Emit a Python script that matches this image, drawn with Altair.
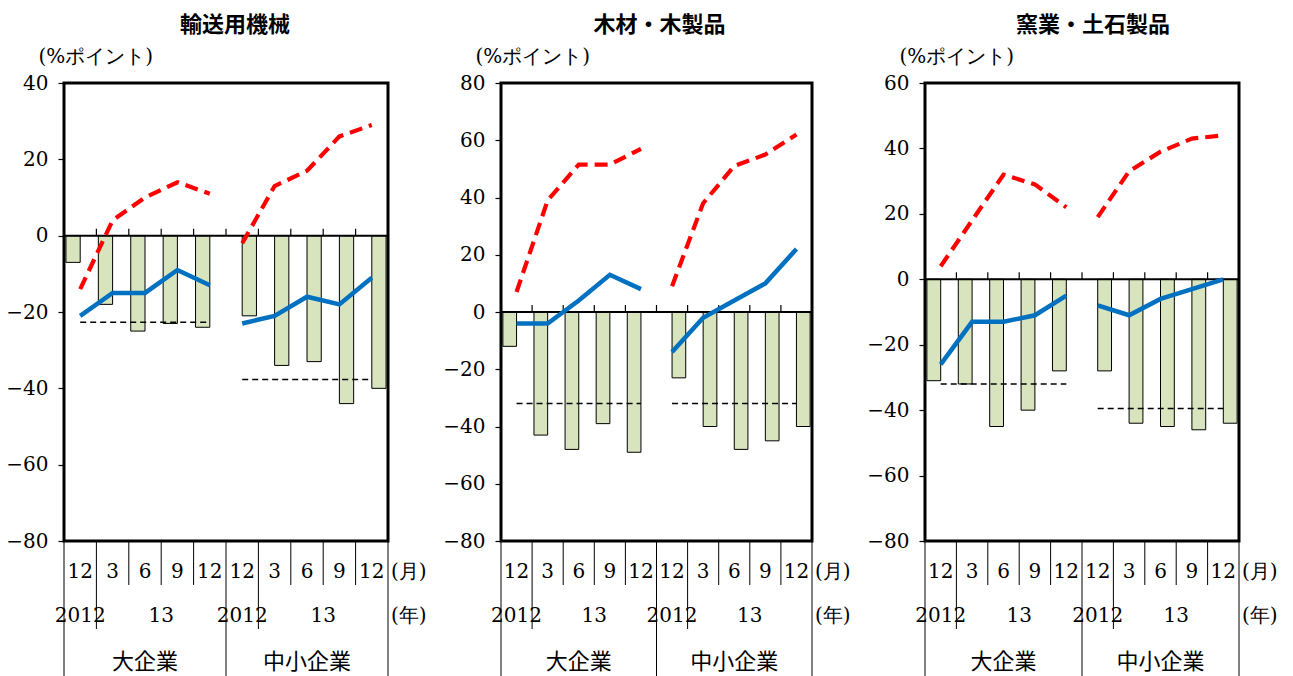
import altair as alt
import pandas as pd

# ---- shared category labels ----
months = ["12", "3", "6", "9", "12"]
year_labels = ["2012", "13"]
size_groups = ["大企業", "中小企業"]
unit_label = "(%ポイント)"

# ---- 輸送用機械 ----
t_title = "輸送用機械"
t_bar_large = [-7, -18, -25, -23, -24]
t_bar_small = [-21, -34, -33, -44, -40]
t_red_large = [-14, 4, 10, 14, 11]
t_red_small = [-2, 13, 17, 26, 29]
t_blue_large = [-21, -15, -15, -9, -13]
t_blue_small = [-23, -21, -16, -18, -11]
t_avg = [-22.7, -37.7]
t_ticks = [40, 20, 0, -20, -40, -60, -80]

# ---- 木材・木製品 ----
w_title = "木材・木製品"
w_bar_large = [-12, -43, -48, -39, -49]
w_bar_small = [-23, -40, -48, -45, -40]
w_red_large = [7, 39, 51.5, 51.5, 57]
w_red_small = [9, 38, 51, 55, 62]
w_blue_large = [-4, -4, 4, 13, 8]
w_blue_small = [-14, -2, 4, 10, 22]
w_avg = [-32, -32]
w_ticks = [80, 60, 40, 20, 0, -20, -40, -60, -80]

# ---- 窯業・土石製品 ----
c_title = "窯業・土石製品"
c_bar_large = [-31, -32, -45, -40, -28]
c_bar_small = [-28, -44, -45, -46, -44]
c_red_large = [4, 18, 32, 29, 22]
c_red_small = [19, 33, 39, 43, 44]
c_blue_large = [-26, -13, -13, -11, -5]
c_blue_small = [-8, -11, -6, -3, 0]
c_avg = [-32, -39.5]
c_ticks = [60, 40, 20, 0, -20, -40, -60, -80]

SERIF = "DejaVu Serif"
SERIF_SIZE = 20
JP = "Noto Sans CJK JP"
BAR_FILL = "#D7E4BD"
BLUE = "#0070C0"
RED = "#FF0000"
H = 458


def panel(title, bar_l, bar_s, red_l, red_s, blue_l, blue_s, avg, ticks,
          width, title_dx):
    n = len(months)
    ymin, ymax = min(ticks), max(ticks)
    xs = alt.Scale(domain=[0, 2 * n], nice=False, zero=False)
    ys = alt.Scale(domain=[ymin, ymax], nice=False, zero=False)
    yaxis = alt.Axis(
        values=ticks, title=unit_label, titleAngle=0, titleX=-26, titleY=-27,
        titleAlign="left", titleBaseline="middle", titleFont=SERIF,
        titleFontSize=SERIF_SIZE, titleFontWeight="normal", titleColor="black",
        labelFont=SERIF, labelFontSize=SERIF_SIZE, labelColor="black",
        labelPadding=10, tickSize=6, tickColor="black", tickWidth=1.2,
        domain=False, grid=False,
    )

    def Y(field):
        return alt.Y(field, type="quantitative", scale=ys, axis=yaxis)

    def X(field):
        return alt.X(field, type="quantitative", scale=xs, axis=None)

    y_zero = alt.Y(datum=0, type="quantitative", scale=ys, axis=yaxis)

    # clustered bars: large firms left of slot centre, small firms right
    bars = pd.DataFrame(
        [{"x0": i + 0.06, "x1": i + 0.5, "v": v} for i, v in enumerate(bar_l)]
        + [{"x0": n + i + 0.5, "x1": n + i + 0.94, "v": v} for i, v in enumerate(bar_s)]
    )
    lines = pd.DataFrame(
        [{"x": i + 0.5, "red": r, "blue": b, "g": size_groups[0]}
         for i, (r, b) in enumerate(zip(red_l, blue_l))]
        + [{"x": n + i + 0.5, "red": r, "blue": b, "g": size_groups[1]}
           for i, (r, b) in enumerate(zip(red_s, blue_s))]
    )
    avgs = pd.DataFrame([
        {"x0": 0.5, "x1": n - 0.5, "v": avg[0]},
        {"x0": n + 0.5, "x1": 2 * n - 0.5, "v": avg[1]},
    ])
    span = pd.DataFrame({"x0": [0], "x1": [2 * n]})
    right_edge = pd.DataFrame({"x": [2 * n, 2 * n], "t": ["(月)", "(年)"]})
    inner = pd.DataFrame({"b": [b for b in range(1, 2 * n)]})

    bar_layer = alt.Chart(bars).mark_rect(
        fill=BAR_FILL, stroke="black", strokeWidth=1
    ).encode(x=X("x0"), x2="x1:Q", y=Y("v"), y2=alt.datum(0))
    avg_layer = alt.Chart(avgs).mark_rule(
        color="black", strokeWidth=1.5, strokeDash=[6, 4]
    ).encode(x=X("x0"), x2="x1:Q", y=Y("v"))
    zero_layer = alt.Chart(span).mark_rule(color="black", strokeWidth=2).encode(
        x=X("x0"), x2="x1:Q", y=y_zero
    )
    tick_layer = alt.Chart(inner).mark_rule(
        color="black", strokeWidth=1.2, y2Offset=-7
    ).encode(x=X("b"), y=y_zero, y2=alt.datum(0))
    red_layer = alt.Chart(lines).mark_line(
        color=RED, strokeWidth=4.2, strokeDash=[13, 7]
    ).encode(x=X("x"), y=Y("red"), detail="g:N")
    blue_layer = alt.Chart(lines).mark_line(
        color=BLUE, strokeWidth=4.5
    ).encode(x=X("x"), y=Y("blue"), detail="g:N")

    # category table below the plot
    month_df = pd.DataFrame({"x": [i + 0.5 for i in range(2 * n)],
                             "t": months * 2})
    year_df = pd.DataFrame({
        "x": [0.5, (1 + n) / 2, n + 0.5, n + (1 + n) / 2],
        "t": year_labels * 2,
    })
    group_df = pd.DataFrame({"x": [n / 2, n + n / 2], "t": size_groups})
    sep_month = pd.DataFrame({"b": [b for b in range(2 * n + 1) if b % n not in (0, 1)]})
    sep_year = pd.DataFrame({"b": [1, n + 1]})
    sep_group = pd.DataFrame({"b": [0, n, 2 * n]})

    def seps(df, length):
        return alt.Chart(df).mark_rule(color="black", strokeWidth=1, clip=False).encode(
            x=X("b"), y=alt.value(H), y2=alt.value(H + length),
        )

    def labels(df, dy, font, size):
        return alt.Chart(df).mark_text(
            font=font, fontSize=size, color="black", baseline="middle", clip=False
        ).encode(x=X("x"), y=alt.value(H + dy), text="t:N")

    unit_m = alt.Chart(right_edge.iloc[[0]]).mark_text(
        font=SERIF, fontSize=SERIF_SIZE, align="left", baseline="middle", dx=3,
        color="black", clip=False,
    ).encode(x=X("x"), y=alt.value(H + 31), text="t:N")
    unit_y = alt.Chart(right_edge.iloc[[1]]).mark_text(
        font=SERIF, fontSize=SERIF_SIZE, align="left", baseline="middle", dx=3,
        color="black", clip=False,
    ).encode(x=X("x"), y=alt.value(H + 75), text="t:N")

    return alt.layer(
        bar_layer, avg_layer, zero_layer, tick_layer, red_layer, blue_layer,
        seps(sep_month, 44), seps(sep_year, 88), seps(sep_group, 135),
        labels(month_df, 31, SERIF, SERIF_SIZE),
        labels(year_df, 75, SERIF, SERIF_SIZE),
        labels(group_df, 121, JP, 22), unit_m, unit_y,
    ).properties(
        width=width, height=H,
        title=alt.TitleParams(
            title, font=JP, fontSize=22, fontWeight="bold", color="black",
            anchor="middle", dx=title_dx, offset=9,
        ),
    )


p1 = panel(t_title, t_bar_large, t_bar_small, t_red_large, t_red_small,
           t_blue_large, t_blue_small, t_avg, t_ticks, 324, 9)
p2 = panel(w_title, w_bar_large, w_bar_small, w_red_large, w_red_small,
           w_blue_large, w_blue_small, w_avg, w_ticks, 311, 3)
p3 = panel(c_title, c_bar_large, c_bar_small, c_red_large, c_red_small,
           c_blue_large, c_blue_small, c_avg, c_ticks, 314, 11)

chart = alt.hconcat(p1, p2, p3, spacing=113, bounds="flush").properties(
    padding={"left": 4, "top": 12, "right": 5, "bottom": 0},
    background="white",
).configure_view(stroke="black", strokeWidth=3)

chart.save("out.html", embed_options={"renderer": "svg", "actions": False})
